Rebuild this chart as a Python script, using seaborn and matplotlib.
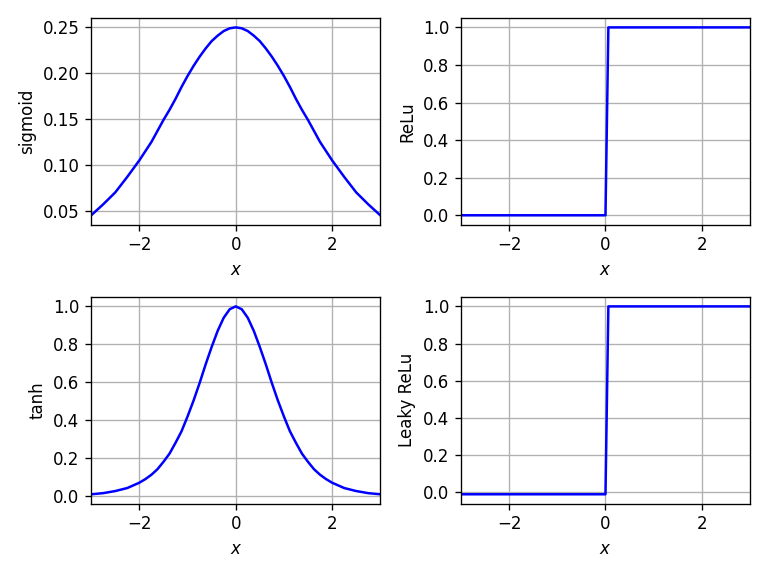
import matplotlib
matplotlib.use('Agg')
import matplotlib.pyplot as plt
import seaborn as sns

# values
x_smooth = [-3, -2.75, -2.5, -2.25, -2, -1.875, -1.75, -1.625, -1.5, -1.375, -1.25, -1.125,
            -1, -0.875, -0.75, -0.625, -0.5, -0.375, -0.25, -0.125, 0,
            0.125, 0.25, 0.375, 0.5, 0.625, 0.75, 0.875, 1,
            1.125, 1.25, 1.375, 1.5, 1.625, 1.75, 1.875, 2, 2.25, 2.5, 2.75, 3]
sigmoid_d = [0.045, 0.057, 0.070, 0.087, 0.105, 0.115, 0.125, 0.137, 0.149, 0.160, 0.172, 0.185,
             0.197, 0.208, 0.218, 0.227, 0.235, 0.241, 0.246, 0.249, 0.250,
             0.249, 0.246, 0.241, 0.235, 0.227, 0.218, 0.208, 0.197,
             0.185, 0.172, 0.160, 0.149, 0.137, 0.125, 0.115, 0.105, 0.087, 0.070, 0.057, 0.045]
tanh_d = [0.010, 0.016, 0.027, 0.043, 0.071, 0.090, 0.113, 0.142, 0.181, 0.224, 0.281, 0.342,
          0.420, 0.504, 0.596, 0.694, 0.786, 0.871, 0.940, 0.985, 1.0,
          0.985, 0.940, 0.871, 0.786, 0.694, 0.596, 0.504, 0.420,
          0.342, 0.281, 0.224, 0.181, 0.142, 0.113, 0.090, 0.071, 0.043, 0.027, 0.016, 0.010]
x_step = [-3, 0, 0.06, 3]
relu_d = [0, 0, 1, 1]
leaky_d = [-0.01, -0.01, 1, 1]

fig, axes = plt.subplots(2, 2, figsize=(6.4, 4.8), dpi=120)
panels = [(axes[0, 0], x_smooth, sigmoid_d, 'sigmoid'),
          (axes[0, 1], x_step, relu_d, 'ReLu'),
          (axes[1, 0], x_smooth, tanh_d, 'tanh'),
          (axes[1, 1], x_step, leaky_d, 'Leaky ReLu')]
for ax, xs, ys, name in panels:
    sns.lineplot(x=xs, y=ys, ax=ax, color='blue', sort=False)
    ax.set_xlim(-3, 3)
    ax.set_xticks([-2, 0, 2])
    ax.set_xlabel('$x$')
    ax.set_ylabel(name)
    ax.grid(True)

plt.tight_layout()
plt.savefig('out.png')
